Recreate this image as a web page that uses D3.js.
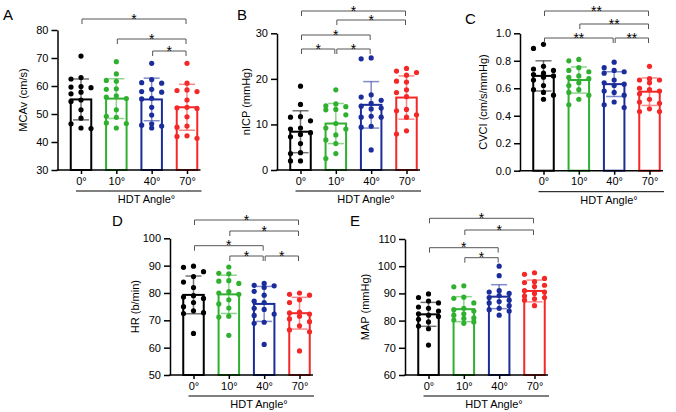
<!DOCTYPE html>
<html>
<head>
<meta charset="utf-8">
<script src="https://cdn.jsdelivr.net/npm/d3@7"></script>
<style>
body { margin: 0; background: #fff; }
svg { font-family: "Liberation Sans", Arial, sans-serif; }
</style>
</head>
<body>
<script>
// groups and colours
var angles = ["0°", "10°", "40°", "70°"];
var colors = ["#000000", "#2fb02f", "#1b2d9b", "#f42828"];

// A - MCAv (cm/s)
var mcavPoints = [
  [70.7, 63, 62.5, 59.8, 59.6, 59.4, 57.8, 57.2, 55, 54.5, 51.5, 48.5, 46.5, 45, 44.8],
  [68.7, 64.3, 62, 61.7, 59, 58.8, 56.5, 56, 55.5, 51.5, 49.2, 48.8, 46.8, 46.6, 45],
  [68.1, 62.3, 61.2, 61, 58.8, 58, 57.8, 55.6, 55.4, 52.4, 49.6, 46.5, 46, 45.7, 45],
  [68.1, 61, 58.6, 58.4, 58, 55, 52.4, 52.2, 52, 49, 45.7, 45.3, 42.2, 42, 41.3]
];
var mcavMean = [55.2, 55.5, 55.2, 52.4];
var mcavSD = [7.3, 7.1, 7.6, 8.2];
var mcavTests = [[0, 3, "*"], [1, 3, "*"], [2, 3, "*"]];

// B - nICP (mmHg)
var nicpPoints = [
  [18.4, 14.4, 11.7, 11.6, 10.8, 9.2, 9.0, 8.2, 7.8, 7.3, 5.8, 3.8, 3.6, 2.0, 2.0],
  [17.6, 14.5, 14.1, 13.9, 13.3, 13.2, 12.1, 10.2, 9.2, 9.0, 7.7, 6.6, 5.8, 3.6, 2.5],
  [24.6, 24.4, 16.5, 16.0, 15.3, 14.6, 14.0, 13.6, 13.4, 11.8, 11.6, 11.6, 9.6, 9.4, 4.4],
  [22.3, 21.7, 21.4, 20.8, 19.5, 19.3, 17.6, 17.0, 16.1, 13.3, 13.0, 12.1, 11.6, 8.6, 7.9]
];
var nicpMean = [8.4, 10.2, 14.3, 15.9];
var nicpSD = [4.6, 4.4, 5.1, 4.75];
var nicpTests = [[0, 3, "*"], [1, 3, "*"], [0, 2, "*"], [0, 1, "*"], [1, 2, "*"]];

// C - CVCI (cm/s/mmHg)
var cvciPoints = [
  [0.92, 0.89, 0.76, 0.74, 0.73, 0.71, 0.70, 0.69, 0.68, 0.66, 0.62, 0.59, 0.57, 0.55, 0.52],
  [0.81, 0.80, 0.75, 0.73, 0.72, 0.69, 0.68, 0.67, 0.64, 0.62, 0.59, 0.57, 0.55, 0.52, 0.48],
  [0.79, 0.75, 0.73, 0.72, 0.71, 0.66, 0.64, 0.63, 0.62, 0.58, 0.57, 0.55, 0.50, 0.48, 0.46],
  [0.76, 0.67, 0.66, 0.66, 0.64, 0.60, 0.59, 0.58, 0.56, 0.52, 0.50, 0.49, 0.45, 0.43, 0.43]
];
var cvciMean = [0.69, 0.66, 0.63, 0.575];
var cvciSD = [0.11, 0.095, 0.09, 0.10];
var cvciTests = [[0, 3, "**"], [1, 3, "**"], [0, 2, "**"], [2, 3, "**"]];

// D - HR (b/min)
var hrPoints = [
  [89.8, 89.4, 87.8, 86.0, 84.0, 82.0, 79.0, 78.5, 78.0, 76.5, 75.0, 73.5, 72.8, 72.5, 65.2],
  [89.5, 87.2, 87.0, 84.5, 84.3, 83.5, 80.5, 80.0, 79.5, 77.5, 76.0, 74.5, 71.5, 71.2, 64.5],
  [83.5, 82.8, 82.6, 82.0, 80.6, 79.2, 77.0, 76.5, 74.4, 74.0, 72.3, 71.8, 69.3, 68.9, 61.2],
  [80.0, 79.5, 79.2, 77.5, 76.5, 73.0, 72.7, 72.3, 71.5, 70.5, 69.5, 68.0, 66.5, 65.8, 58.8]
];
var hrMean = [79.3, 79.5, 76.0, 72.6];
var hrSD = [6.9, 7.0, 6.4, 5.8];
var hrTests = [[0, 3, "*"], [1, 3, "*"], [0, 2, "*"], [1, 2, "*"], [2, 3, "*"]];

// E - MAP (mmHg)
var mapPoints = [
  [89.8, 88.5, 87.2, 86.5, 85.0, 84.5, 83.5, 82.5, 82.0, 81.5, 80.5, 79.5, 78.0, 77.0, 71.0],
  [92.8, 92.4, 88.6, 88.2, 86.5, 84.5, 84.0, 83.5, 82.5, 82.0, 81.0, 80.8, 80.2, 79.5, 79.0],
  [100.0, 96.5, 91.0, 90.5, 90.0, 89.2, 88.5, 87.5, 87.0, 86.5, 85.5, 84.5, 84.0, 83.5, 82.0],
  [97.6, 97.0, 95.5, 94.3, 94.0, 93.0, 92.5, 91.0, 90.5, 90.0, 89.0, 88.5, 88.0, 87.5, 85.5]
];
var mapMean = [82.3, 84.2, 88.8, 90.9];
var mapSD = [4.4, 4.6, 4.4, 4.0];
var mapTests = [[0, 3, "*"], [1, 3, "*"], [0, 2, "*"], [1, 2, "*"]];

var svg = d3.select("body").append("svg")
    .attr("width", 676)
    .attr("height", 412);

// panel placement on the page
var panels = [
  {letter: "A", lx: 3, ly: 20, ax: 57.5, top: 30, bottom: 170, domain: [30, 80], step: 10, fmt: "d",
   label: "MCAv (cm/s)", labX: 22.5, points: mcavPoints, mean: mcavMean, sd: mcavSD,
   tests: mcavTests, testY: [19, 39, 51]},
  {letter: "B", lx: 237, ly: 19.5, ax: 277, top: 33.3, bottom: 170, domain: [0, 30], step: 10, fmt: "d",
   label: "nICP (mmHg)", labX: 245.5, points: nicpPoints, mean: nicpMean, sd: nicpSD,
   tests: nicpTests, testY: [11, 20, 35, 49, 49]},
  {letter: "C", lx: 465, ly: 23.5, ax: 520, top: 33.3, bottom: 170.7, domain: [0, 1], step: 0.2, fmt: ".1f",
   label: "CVCI (cm/s/mmHg)", labX: 483, points: cvciPoints, mean: cvciMean, sd: cvciSD,
   tests: cvciTests, testY: [11, 24, 38, 38]},
  {letter: "D", lx: 112, ly: 226, ax: 170, top: 238.3, bottom: 375, domain: [50, 100], step: 10, fmt: "d",
   label: "HR (b/min)", labX: 135, points: hrPoints, mean: hrMean, sd: hrSD,
   tests: hrTests, testY: [220, 231, 245.7, 256, 256]},
  {letter: "E", lx: 350, ly: 225.7, ax: 405, top: 239, bottom: 375, domain: [60, 110], step: 10, fmt: "d",
   label: "MAP (mmHg)", labX: 365, points: mapPoints, mean: mapMean, sd: mapSD,
   tests: mapTests, testY: [218.3, 230, 247.7, 257.7]}
];

// spread dots sideways inside the bar (prism style columns)
function spread(vals, y) {
  var offs = [0, -10, 10, -5, 5];
  var placed = [];
  vals.slice().sort(function(a, b) { return b - a; }).forEach(function(v) {
    var py = y(v), best = 0, bestGap = -1;
    for (var k = 0; k < offs.length; k++) {
      // closest neighbour, in "dot" units
      var gap = d3.min(placed, function(p) {
        return Math.max(Math.abs(p.dx - offs[k]) / 8, Math.abs(p.y - py) / 6.5);
      });
      if (gap === undefined || gap >= 1) { best = offs[k]; bestGap = 1; break; }
      if (gap > bestGap) { bestGap = gap; best = offs[k]; }
    }
    placed.push({v: v, dx: best, y: py});
  });
  return placed;
}

panels.forEach(function(p) {
  var g = svg.append("g");

  var y = d3.scaleLinear().domain(p.domain).range([p.bottom, p.top]);
  var x = d3.scalePoint().domain(angles).range([p.ax + 23.5, p.ax + 129.5]);
  var axisEnd = p.ax + 143;

  // panel letter
  g.append("text")
      .attr("x", p.lx).attr("y", p.ly)
      .attr("font-size", 15)
      .text(p.letter);

  // bars
  angles.forEach(function(a, i) {
    g.append("rect")
        .attr("x", x(a) - 10.25)
        .attr("y", y(p.mean[i]))
        .attr("width", 20.5)
        .attr("height", p.bottom - y(p.mean[i]))
        .attr("fill", "#fff")
        .attr("stroke", colors[i])
        .attr("stroke-width", 2);
  });

  // error bars (mean +/- SD)
  angles.forEach(function(a, i) {
    var hi = y(p.mean[i] + p.sd[i]), lo = y(p.mean[i] - p.sd[i]);
    var eb = g.append("g")
        .attr("stroke", colors[i])
        .attr("stroke-opacity", 0.55)
        .attr("stroke-width", 1.5);
    eb.append("line").attr("x1", x(a)).attr("x2", x(a)).attr("y1", hi).attr("y2", lo);
    eb.append("line").attr("x1", x(a) - 8).attr("x2", x(a) + 8).attr("y1", hi).attr("y2", hi);
    eb.append("line").attr("x1", x(a) - 8).attr("x2", x(a) + 8).attr("y1", lo).attr("y2", lo);
  });

  // individual subjects
  angles.forEach(function(a, i) {
    g.selectAll(null)
        .data(spread(p.points[i], y))
        .enter().append("circle")
        .attr("cx", function(d) { return x(a) + d.dx; })
        .attr("cy", function(d) { return d.y; })
        .attr("r", 2.6)
        .attr("fill", colors[i]);
  });

  // y axis
  var yAxis = d3.axisLeft(y)
      .tickValues(d3.range(p.domain[0], p.domain[1] + p.step / 2, p.step))
      .tickFormat(d3.format(p.fmt))
      .tickSize(6)
      .tickSizeOuter(0)
      .tickPadding(3);
  var ya = g.append("g")
      .attr("transform", "translate(" + p.ax + ",0)")
      .call(yAxis);
  ya.selectAll("path, line").attr("stroke", "#000").attr("stroke-width", 1.5);
  ya.selectAll("text").attr("font-size", 11).attr("fill", "#000")
      .attr("font-family", "Liberation Sans, Arial, sans-serif");

  // x axis
  g.append("line")
      .attr("x1", p.ax - 0.75).attr("x2", axisEnd)
      .attr("y1", p.bottom).attr("y2", p.bottom)
      .attr("stroke", "#000").attr("stroke-width", 1.5);
  var xa = g.append("g")
      .attr("transform", "translate(0," + p.bottom + ")")
      .call(d3.axisBottom(x).tickSize(4).tickPadding(3));
  xa.select(".domain").remove();
  xa.selectAll("line").attr("stroke", "#000").attr("stroke-width", 1.5);
  xa.selectAll("text").attr("font-size", 11).attr("fill", "#000")
      .attr("font-family", "Liberation Sans, Arial, sans-serif");

  // grouping line + title under the axis
  g.append("line")
      .attr("x1", x(angles[0]) - 5).attr("x2", axisEnd + 1)
      .attr("y1", p.bottom + 21).attr("y2", p.bottom + 21)
      .attr("stroke", "#000").attr("stroke-width", 1);
  g.append("text")
      .attr("x", p.ax + 89).attr("y", p.bottom + 33)
      .attr("text-anchor", "middle")
      .attr("font-size", 11)
      .text("HDT Angle°");

  // y axis title
  g.append("text")
      .attr("transform", "translate(" + p.labX + "," + (p.top + p.bottom) / 2 + ") rotate(-90)")
      .attr("text-anchor", "middle")
      .attr("dominant-baseline", "central")
      .attr("font-size", 11)
      .text(p.label);

  // significance brackets
  p.tests.forEach(function(t, k) {
    var x1 = x(angles[t[0]]) + 1, x2 = x(angles[t[1]]) - 1, ty = p.testY[k];
    g.append("path")
        .attr("d", "M" + x1 + "," + (ty + 5) + "V" + ty + "H" + x2 + "V" + (ty + 5))
        .attr("fill", "none")
        .attr("stroke", "#555")
        .attr("stroke-width", 1);
    g.append("text")
        .attr("x", (x1 + x2) / 2).attr("y", ty + 4.5)
        .attr("text-anchor", "middle")
        .attr("font-size", 14)
        .text(t[2]);
  });
});
</script>
</body>
</html>
